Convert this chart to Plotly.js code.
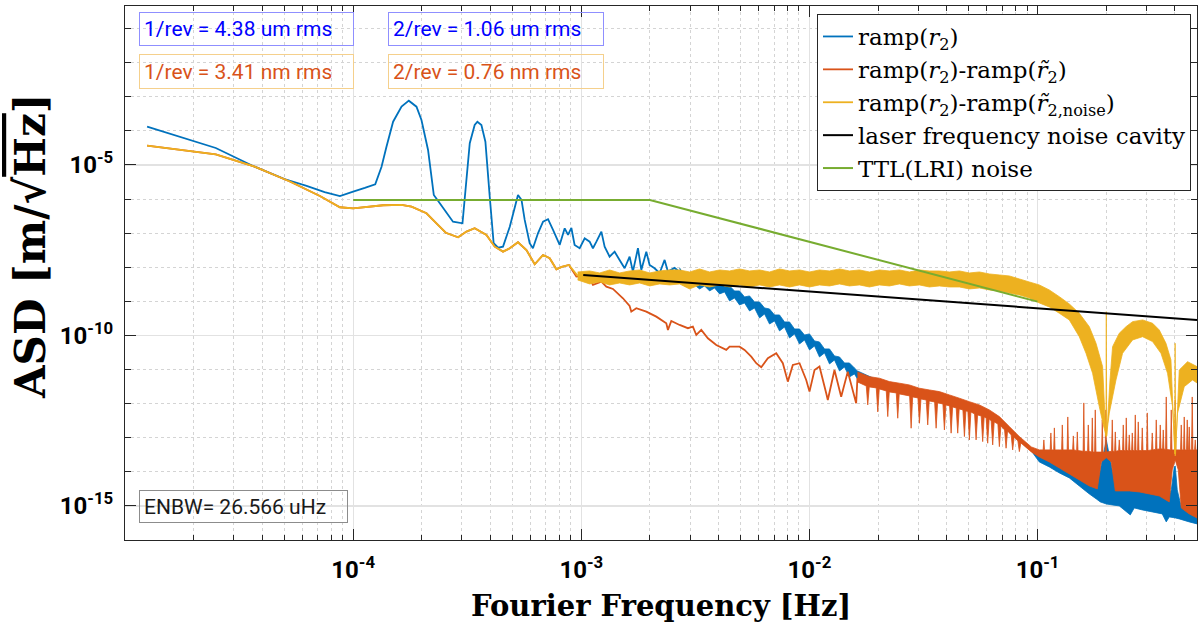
<!DOCTYPE html>
<html><head><meta charset="utf-8">
<script src="https://cdn.plot.ly/plotly-3.0.1.min.js"></script>
<style>html,body{margin:0;padding:0;background:#fff;}#chart{width:1198px;height:626px;}</style>
</head><body><div id="chart"></div>
<script>
// ---------- data ----------
const blueFreq = [1.25e-5,2.5e-5,3.7e-5,5.0e-5,6.25e-5,7.5e-5,8.75e-5,1.0e-4,1.125e-4,1.25e-4,1.332e-4,1.40e-4,1.497e-4,1.63e-4,1.754e-4,1.895e-4,1.993e-4,2.13e-4,2.257e-4,2.398e-4,2.74e-4,3.015e-4,3.245e-4,3.41e-4,3.505e-4,3.65e-4,3.80e-4,3.97e-4,4.13e-4,4.32e-4,4.54e-4,4.86e-4,5.28e-4,5.47e-4,5.65e-4,5.94e-4,6.14e-4,6.46e-4,6.80e-4,7.15e-4,7.52e-4,8.04e-4,8.46e-4,8.75e-4,9.05e-4,9.35e-4,9.84e-4,1.035e-3,1.088e-3,1.125e-3,1.165e-3,1.225e-3,1.266e-3,1.331e-3,1.40e-3,1.472e-3,1.549e-3,1.629e-3,1.684e-3,1.772e-3,1.833e-3,1.928e-3,1.993e-3,2.096e-3,2.205e-3,2.319e-3,2.398e-3,2.565e-3,2.698e-3];
const blueAsd = [1.33e-4,3.15e-5,8.9e-6,3.88e-6,2.42e-6,1.61e-6,1.23e-6,1.65e-6,2.12e-6,2.72e-6,8.9e-6,3.44e-5,1.86e-4,5.13e-4,7.69e-4,5.13e-4,2.09e-4,2.75e-5,1.32e-6,7.53e-7,2.17e-7,1.95e-7,4.33e-5,1.49e-4,1.86e-4,1.49e-4,4.82e-5,1.17e-6,5.06e-8,3.76e-8,4.02e-8,1.55e-7,1.32e-6,9.42e-7,2.44e-7,5.06e-8,3.61e-8,9.93e-8,2.17e-7,2.56e-7,1.24e-7,4.51e-8,1.39e-7,8.85e-8,1.42e-7,4.51e-8,3.61e-8,7.08e-8,5.63e-8,3.61e-8,5.63e-8,1.11e-7,4.02e-8,2.05e-8,2.86e-8,1.64e-8,9.35e-9,2.05e-8,7.43e-9,3.61e-8,8.34e-9,2.86e-8,1.17e-8,9.35e-9,6.67e-9,1.64e-8,7.43e-9,9.55e-9,7.28e-9];

const blueBandUpperFreq = [2.698e-3,2.838e-3,2.984e-3,3.139e-3,3.301e-3,3.472e-3,3.651e-3,3.840e-3,4.039e-3,4.248e-3,4.468e-3,4.698e-3,4.941e-3,5.197e-3,5.466e-3,5.748e-3,6.046e-3,6.359e-3,6.687e-3,7.033e-3,7.397e-3,7.780e-3,8.182e-3,8.606e-3,9.050e-3,9.519e-3,1.001e-2,1.053e-2,1.107e-2,1.165e-2,1.225e-2,1.288e-2,1.355e-2,1.425e-2,1.498e-2,1.576e-2,1.624e-2,2.028e-2,2.481e-2,3.035e-2,3.713e-2,4.545e-2,5.561e-2,6.803e-2,8.323e-2,9.394e-2,0.1018,0.1126,0.1246,0.1378,0.1524,0.1686,0.1810,0.1884,0.1962,0.2002,0.2042,0.2126,0.2237,0.2524,0.2792,0.3088,0.3416,0.3703,0.3856,0.3974,0.4014,0.4096,0.4265,0.4623,0.5];
const blueBandUpperAsd = [9.54e-9,5.56e-9,6.36e-9,4.54e-9,5.56e-9,4.24e-9,5.56e-9,3.70e-9,4.54e-9,2.64e-9,2.83e-9,2.02e-9,2.02e-9,1.35e-9,1.44e-9,9.6e-10,9.6e-10,6.40e-10,5.98e-10,3.99e-10,3.99e-10,2.49e-10,2.49e-10,1.55e-10,1.55e-10,1.03e-10,1.11e-10,6.90e-11,6.44e-11,4.02e-11,4.02e-11,2.51e-11,2.34e-11,1.56e-11,1.56e-11,1.11e-11,9.10e-12,4.63e-12,3.30e-12,2.36e-12,1.80e-12,1.20e-12,7.48e-13,3.56e-13,9.22e-14,4.69e-14,3.13e-14,2.23e-14,1.49e-14,9.93e-15,6.63e-15,4.42e-15,3.37e-15,1.14e-14,4.39e-14,8.62e-14,4.39e-14,1.14e-14,2.95e-15,3.15e-15,2.95e-15,2.57e-15,2.25e-15,1.50e-15,2.95e-15,1.39e-14,1.49e-14,2.95e-15,9.36e-16,6.67e-16,5.09e-16];
const blueBandLowerFreq = [2.698e-3,2.838e-3,2.984e-3,3.139e-3,3.301e-3,3.472e-3,3.651e-3,3.840e-3,4.039e-3,4.248e-3,4.468e-3,4.698e-3,4.941e-3,5.197e-3,5.466e-3,5.748e-3,6.046e-3,6.359e-3,6.687e-3,7.033e-3,7.397e-3,7.780e-3,8.182e-3,8.606e-3,9.050e-3,9.519e-3,1.001e-2,1.053e-2,1.107e-2,1.165e-2,1.225e-2,1.288e-2,1.355e-2,1.425e-2,1.498e-2,1.576e-2,1.624e-2,2.028e-2,2.481e-2,3.035e-2,3.713e-2,4.545e-2,5.561e-2,6.803e-2,8.323e-2,9.394e-2,0.1018,0.1126,0.1246,0.1378,0.1524,0.1686,0.1810,0.1884,0.2002,0.2126,0.2282,0.2550,0.2655,0.2878,0.3183,0.3521,0.3666,0.3779,0.4014,0.418,0.4623,0.5];
const blueBandLowerAsd = [5.56e-9,2.83e-9,2.64e-9,3.03e-9,2.31e-9,2.83e-9,2.02e-9,2.47e-9,1.65e-9,1.89e-9,1.03e-9,1.26e-9,7.84e-10,8.97e-10,5.23e-10,6.40e-10,3.26e-10,4.27e-10,2.17e-10,2.66e-10,1.36e-10,1.77e-10,8.45e-11,1.11e-10,5.63e-11,7.38e-11,3.76e-11,4.92e-11,2.34e-11,3.07e-11,1.46e-11,1.91e-11,9.10e-12,1.19e-11,6.06e-12,7.44e-12,5.30e-12,3.09e-12,2.20e-12,1.57e-12,1.20e-12,8.00e-13,5.34e-13,2.72e-13,8.06e-14,4.10e-14,1.95e-14,1.39e-14,9.29e-15,6.63e-15,3.86e-15,2.25e-15,1.60e-15,1.31e-15,1.14e-15,1.07e-15,1.0e-15,5.45e-16,8.72e-16,7.63e-16,6.67e-16,5.83e-16,3.40e-16,4.76e-16,4.45e-16,4.16e-16,3.40e-16,2.97e-16];

const orangeFreq = [1.25e-5,2.5e-5,3.7e-5,5.28e-5,7.15e-5,8.75e-5,1.0e-4,1.353e-4,1.63e-4,1.803e-4,2.097e-4,2.319e-4,2.547e-4,2.884e-4,3.139e-4,3.41e-4,3.84e-4,4.176e-4,4.54e-4,4.86e-4,5.28e-4,5.75e-4,6.25e-4,6.80e-4,7.27e-4,7.78e-4,8.21e-4,8.83e-4,9.52e-4,1.014e-3,1.088e-3,1.125e-3,1.225e-3,1.288e-3,1.377e-3,1.523e-3,1.629e-3,1.657e-3,1.743e-3,1.928e-3,2.133e-3,2.359e-3,2.398e-3,2.481e-3,2.698e-3,2.933e-3,3.085e-3,3.193e-3,3.358e-3,3.589e-3,3.906e-3,4.321e-3,4.468e-3,4.941e-3,5.197e-3,5.560e-3,5.848e-3,6.150e-3,6.574e-3,7.155e-3,7.647e-3,8.043e-3,8.459e-3,9.050e-3,9.684e-3,1.001e-2,1.053e-2,1.107e-2,1.185e-2,1.204e-2,1.288e-2,1.378e-2,1.473e-2,1.603e-2,1.624e-2];
const orangeAsd = [3.68e-5,2.06e-5,8.9e-6,3.28e-6,1.23e-6,5.75e-7,5.37e-7,6.59e-7,6.72e-7,5.98e-7,3.83e-7,1.95e-7,1.03e-7,7.59e-8,1.11e-7,1.39e-7,8.86e-8,4.02e-8,2.87e-8,3.61e-8,5.41e-8,3.21e-8,1.22e-8,2.29e-8,1.84e-8,8.72e-9,1.02e-8,1.17e-8,5.30e-9,5.56e-9,4.76e-9,3.03e-9,3.78e-9,2.70e-9,2.31e-9,1.23e-9,7.33e-10,4.98e-10,6.28e-10,4.98e-10,3.56e-10,2.28e-10,1.45e-10,2.66e-10,2.03e-10,1.63e-10,1.81e-10,1.03e-10,1.45e-10,8.28e-11,5.26e-11,3.76e-11,4.69e-11,4.69e-11,3.76e-11,2.39e-11,1.53e-11,1.17e-11,2.14e-11,3.0e-11,1.53e-11,4.42e-12,1.36e-11,1.53e-11,4.95e-12,2.25e-12,9.72e-12,1.22e-11,2.02e-12,1.28e-12,9.72e-12,1.60e-12,8.68e-12,1.03e-12,5.67e-12];

const orangeBandUpperFreq = [1.624e-2,1.833e-2,2.028e-2,2.243e-2,2.481e-2,2.744e-2,3.035e-2,3.357e-2,3.713e-2,4.108e-2,4.545e-2,5.028e-2,5.561e-2,6.151e-2,6.803e-2,7.524e-2,8.323e-2,9.394e-2,
 0.1018,0.1058,0.1066,0.1073,0.1136,0.1144,0.1152,0.1177,0.1185,0.1193,0.1246,0.1275,0.1284,0.1293,0.1348,0.1357,0.1367,0.1425,0.1435,0.1445,0.1484,0.1494,0.1504,0.1584,0.1595,0.1606,0.1657,0.1669,0.1681,0.1726,0.1738,0.1750,0.1779,0.1791,0.1803,0.1865,0.1909,0.1922,0.1935,0.1978,0.1992,0.2006,
 0.2111,0.2126,0.2141,0.2177,0.2192,0.2207,0.2266,0.2282,0.2298,0.2359,0.2376,0.2393,0.2432,0.2449,0.2466,0.2506,0.2524,0.2542,0.2584,0.2602,0.2620,0.2663,0.2682,0.2701,0.2745,0.2764,0.2783,0.2858,0.2878,0.2898,
 0.3006,0.3027,0.3048,0.3161,0.3183,0.3205,0.3291,0.3314,0.3337,0.3427,0.3451,0.3475,0.3532,0.3557,0.3582,0.3640,0.3666,0.3692,0.3829,0.3856,0.3883,0.3986,0.4014,0.4042,0.418,0.4235,0.4265,0.4295,0.4365,0.4396,0.4427,0.4499,0.4531,0.4563,0.4591,0.4623,0.4655,0.4732,0.4765,0.4798,0.4878,0.4912,0.4946,0.5];
const orangeBandUpperAsd = [8.51e-12,6.19e-12,5.56e-12,4.42e-12,3.97e-12,3.53e-12,2.83e-12,2.52e-12,2.25e-12,1.80e-12,1.44e-12,1.14e-12,9.16e-13,6.54e-13,4.16e-13,2.12e-13,1.08e-13,5.37e-14,
 4.4e-14,4.4e-14,8.62e-14,4.4e-14,4.4e-14,1.38e-13,4.4e-14,4.4e-14,1.94e-13,4.4e-14,4.4e-14,4.4e-14,2.37e-13,4.4e-14,4.4e-14,4.07e-13,4.4e-14,4.4e-14,1.13e-13,4.4e-14,4.2e-14,1.48e-13,4.2e-14,4.0e-14,1.05e-12,4.0e-14,4.0e-14,2.37e-13,4.0e-14,3.8e-14,3.81e-13,3.8e-14,3.8e-14,6.54e-13,3.8e-14,3.8e-14,3.8e-14,3.33e-13,3.8e-14,3.8e-14,6.54e-13,3.8e-14,
 4.0e-14,3.33e-13,4.0e-14,4.0e-14,1.48e-13,4.0e-14,4.2e-14,8.62e-14,4.2e-14,4.2e-14,2.37e-13,4.2e-14,4.2e-14,3.81e-13,4.2e-14,4.2e-14,1.21e-13,4.2e-14,4.2e-14,1.38e-13,4.2e-14,4.2e-14,4.66e-13,4.2e-14,4.2e-14,2.91e-13,4.2e-14,4.2e-14,1.94e-13,4.2e-14,
 4.2e-14,5.34e-13,4.2e-14,4.4e-14,1.38e-13,4.4e-14,4.6e-14,3.33e-13,4.6e-14,4.7e-14,2.37e-13,4.7e-14,4.7e-14,1.69e-13,4.7e-14,4.5e-14,1.57e-12,4.5e-14,4.4e-14,6.54e-13,4.4e-14,4.4e-14,1.28e-12,4.4e-14,4.4e-14,4.4e-14,2.37e-13,4.4e-14,4.4e-14,4.07e-13,4.4e-14,4.4e-14,3.33e-13,4.4e-14,4.4e-14,2.07e-13,4.4e-14,4.4e-14,1.57e-12,4.4e-14,4.4e-14,8.62e-14,4.4e-14,4.4e-14];
const orangeBandLowerFreq = [1.624e-2,1.775e-2,1.802e-2,1.830e-2,1.964e-2,1.994e-2,2.024e-2,2.172e-2,2.205e-2,2.239e-2,2.403e-2,2.439e-2,2.476e-2,2.750e-2,2.792e-2,2.835e-2,2.990e-2,3.036e-2,3.082e-2,3.251e-2,3.301e-2,3.351e-2,3.539e-2,3.593e-2,3.647e-2,3.848e-2,3.906e-2,3.966e-2,4.117e-2,4.180e-2,4.244e-2,4.400e-2,4.468e-2,4.535e-2,4.708e-2,4.780e-2,4.853e-2,4.951e-2,5.026e-2,5.103e-2,5.297e-2,5.378e-2,5.460e-2,5.662e-2,5.748e-2,5.836e-2,5.955e-2,6.046e-2,6.138e-2,6.263e-2,6.359e-2,6.456e-2,6.701e-2,6.803e-2,6.907e-2,7.170e-2,7.279e-2,7.390e-2,7.663e-2,7.780e-2,7.899e-2,8.199e-2,8.323e-2,8.450e-2,9.394e-2,0.1018,0.1126,0.1246,0.1378,0.1524,0.1686,0.1828,0.1903,0.2,0.2105,0.2192,0.2524,0.2792,0.3088,0.3416,0.3779,0.3895,0.4014,0.4138,0.4265,0.4623,0.5];
const orangeBandLowerAsd = [4.33e-12,3.30e-12,9.16e-13,3.09e-12,2.89e-12,5.71e-13,2.70e-12,2.36e-12,4.16e-13,2.20e-12,2.06e-12,3.73e-13,1.93e-12,1.68e-12,1.90e-13,1.57e-12,1.47e-12,2.66e-13,1.37e-12,1.28e-12,2.37e-13,1.20e-12,1.12e-12,1.90e-13,1.05e-12,9.80e-13,1.69e-13,9.16e-13,8.56e-13,1.36e-13,8.00e-13,7.48e-13,1.36e-13,6.99e-13,6.54e-13,1.08e-13,6.11e-13,5.91e-13,8.62e-14,5.71e-13,4.99e-13,8.62e-14,4.66e-13,4.36e-13,7.69e-14,4.07e-13,3.81e-13,6.90e-14,3.56e-13,3.11e-13,6.15e-14,2.91e-13,2.54e-13,5.48e-14,2.22e-13,1.69e-13,4.92e-14,1.58e-13,1.21e-13,4.39e-14,1.05e-13,8.06e-14,3.91e-14,7.04e-14,3.83e-14,2.73e-14,1.95e-14,1.30e-14,8.68e-15,5.79e-15,3.86e-15,3.15e-15,1.95e-14,2.6e-14,1.95e-14,2.75e-15,2.75e-15,2.57e-15,2.25e-15,1.96e-15,1.31e-15,1.14e-14,2.23e-14,1.14e-14,8.72e-16,5.83e-16,4.45e-16];

const yellowFreq = [1.25e-5,2.5e-5,3.7e-5,5.28e-5,7.15e-5,8.75e-5,1.0e-4,1.353e-4,1.63e-4,1.803e-4,2.097e-4,2.319e-4,2.547e-4,2.884e-4,3.139e-4,3.41e-4,3.84e-4,4.176e-4,4.54e-4,4.86e-4,5.28e-4,5.75e-4,6.25e-4,6.80e-4,7.27e-4,7.78e-4,8.21e-4,8.83e-4,9.64e-4];
const yellowAsd = [3.68e-5,2.06e-5,8.9e-6,3.28e-6,1.23e-6,5.75e-7,5.37e-7,6.59e-7,6.72e-7,5.98e-7,3.83e-7,1.95e-7,1.03e-7,7.59e-8,1.11e-7,1.39e-7,8.86e-8,4.02e-8,2.87e-8,3.61e-8,5.41e-8,3.21e-8,1.22e-8,2.29e-8,1.84e-8,8.72e-9,1.02e-8,1.17e-8,5.6e-9];

const yellowBandUpperFreq = [9.64e-4,1.088e-3,1.204e-3,1.332e-3,1.473e-3,1.629e-3,1.802e-3,1.994e-3,2.205e-3,2.439e-3,2.698e-3,2.984e-3,3.301e-3,3.651e-3,4.039e-3,4.468e-3,4.941e-3,5.466e-3,6.046e-3,6.687e-3,7.397e-3,8.182e-3,9.050e-3,1.001e-2,1.107e-2,1.225e-2,1.355e-2,1.498e-2,1.657e-2,1.833e-2,2.028e-2,2.243e-2,2.481e-2,2.744e-2,3.035e-2,3.357e-2,3.713e-2,4.108e-2,4.545e-2,5.028e-2,5.561e-2,6.151e-2,6.803e-2,7.524e-2,8.323e-2,9.207e-2,0.1018,0.1126,0.1246,0.1378,0.1524,0.1686,0.1804,0.1928,0.1994,0.2002,0.2010,0.2078,0.2133,0.2282,0.2442,0.2610,0.2887,0.3193,0.3416,0.3655,0.3844,0.3994,0.4010,0.4026,0.418,0.4545,0.5];
const yellowBandUpperAsd = [7.28e-9,7.79e-9,6.81e-9,8.33e-9,6.81e-9,7.79e-9,8.33e-9,6.81e-9,7.79e-9,8.33e-9,8.33e-9,7.28e-9,8.92e-9,7.28e-9,8.33e-9,7.79e-9,8.92e-9,7.79e-9,8.33e-9,7.28e-9,8.92e-9,7.79e-9,8.33e-9,7.28e-9,8.33e-9,7.79e-9,8.92e-9,7.79e-9,8.33e-9,7.28e-9,8.33e-9,7.79e-9,8.33e-9,7.28e-9,8.33e-9,7.79e-9,7.79e-9,7.28e-9,7.79e-9,6.81e-9,7.28e-9,6.36e-9,5.95e-9,5.56e-9,4.54e-9,3.70e-9,3.03e-9,2.16e-9,1.37e-9,8.40e-10,4.48e-10,1.81e-10,5.9e-11,1.22e-11,1.13e-13,4.98e-10,1.13e-13,4.95e-12,4.69e-11,1.16e-10,1.81e-10,2.54e-10,2.85e-10,2.28e-10,1.45e-10,5.9e-11,1.91e-11,3.35e-14,5.9e-11,3.35e-14,9.72e-12,1.70e-11,1.22e-11];
const yellowBandLowerFreq = [9.64e-4,1.088e-3,1.204e-3,1.332e-3,1.473e-3,1.629e-3,1.802e-3,1.994e-3,2.205e-3,2.439e-3,2.698e-3,2.984e-3,3.301e-3,3.651e-3,4.039e-3,4.468e-3,4.941e-3,5.466e-3,6.046e-3,6.687e-3,7.397e-3,8.182e-3,9.050e-3,1.001e-2,1.107e-2,1.225e-2,1.355e-2,1.498e-2,1.657e-2,1.833e-2,2.028e-2,2.243e-2,2.481e-2,2.744e-2,3.035e-2,3.357e-2,3.713e-2,4.108e-2,4.545e-2,5.028e-2,5.561e-2,6.151e-2,6.803e-2,7.524e-2,8.323e-2,9.207e-2,0.1018,0.1126,0.1246,0.1378,0.1524,0.1631,0.1743,0.1865,0.1942,0.2002,0.2063,0.2207,0.2359,0.2610,0.2887,0.3193,0.3475,0.3714,0.3906,0.4014,0.4108,0.4396,0.4780,0.5];
const yellowBandLowerAsd = [4.24e-9,3.24e-9,3.70e-9,3.03e-9,3.46e-9,3.03e-9,3.46e-9,2.83e-9,3.24e-9,3.03e-9,3.24e-9,2.31e-9,3.03e-9,2.64e-9,3.03e-9,2.64e-9,3.03e-9,2.64e-9,3.03e-9,2.64e-9,3.03e-9,2.64e-9,3.03e-9,2.64e-9,3.03e-9,2.83e-9,3.24e-9,2.83e-9,3.03e-9,2.64e-9,3.03e-9,2.83e-9,3.24e-9,2.83e-9,3.03e-9,2.64e-9,2.83e-9,2.64e-9,2.64e-9,2.31e-9,2.47e-9,2.16e-9,2.02e-9,1.76e-9,1.54e-9,1.26e-9,8.97e-10,6.85e-10,4.48e-10,2.85e-10,9.2e-11,3.0e-11,7.8e-12,8.17e-13,2.37e-13,1.06e-13,5.25e-13,4.95e-12,3.0e-11,7.38e-11,9.2e-11,6.59e-11,3.0e-11,7.8e-12,8.17e-13,2.93e-14,5.25e-13,3.15e-12,4.95e-12,4.05e-12];

const laserFreq = [1.02e-3, 0.5];
const laserAsd = [5.95e-9, 2.85e-10];
const ttlFreq = [1.0e-4, 2.0e-3, 0.1];
const ttlAsd = [9.4e-7, 9.4e-7, 9.8e-10];

const seriesNames = ['ramp(<i>r</i><sub>2</sub>)',
  'ramp(<i>r</i><sub>2</sub>)-ramp(<i>r̃</i><sub>2</sub>)',
  'ramp(<i>r</i><sub>2</sub>)-ramp(<i>r̃</i><sub>2,noise</sub>)',
  'laser frequency noise cavity',
  'TTL(LRI) noise'];
const colors = ['#0072BD','#D95319','#EDB120','#000000','#77AC30'];

const xMajorTicks = [1e-4,1e-3,1e-2,1e-1];
const xMajorLabels = ['10<sup>-4</sup>','10<sup>-3</sup>','10<sup>-2</sup>','10<sup>-1</sup>'];
const xMinorTicks = [2e-5,3e-5,4e-5,5e-5,6e-5,7e-5,8e-5,9e-5,2e-4,3e-4,4e-4,5e-4,6e-4,7e-4,8e-4,9e-4,2e-3,3e-3,4e-3,5e-3,6e-3,7e-3,8e-3,9e-3,2e-2,3e-2,4e-2,5e-2,6e-2,7e-2,8e-2,9e-2,2e-1,3e-1,4e-1];
const yMajorTicks = [1e-15,1e-10,1e-5];
const yMajorLabels = ['10<sup>-15</sup>','10<sup>-10</sup>','10<sup>-5</sup>'];
const yMinorTicks = [1e-14,1e-13,1e-12,1e-11,1e-9,1e-8,1e-7,1e-6,1e-4,1e-3,1e-2,1e-1];

// ---------- build traces ----------
function band(uf, ua, lf, la, color) {
  return {x: uf.concat(lf.slice().reverse()), y: ua.concat(la.slice().reverse()),
    type:'scatter', mode:'lines', fill:'toself', fillcolor: color,
    line:{color: color, width:0.8, simplify:false}, showlegend:false, hoverinfo:'skip'};
}
function line(x, y, i, w) {
  return {x:x, y:y, type:'scatter', mode:'lines', name: seriesNames[i],
    line:{color: colors[i], width: w, simplify:false}, hoverinfo:'skip'};
}
const traces = [
  line(blueFreq, blueAsd, 0, 1.8),
  band(blueBandUpperFreq, blueBandUpperAsd, blueBandLowerFreq, blueBandLowerAsd, colors[0]),
  line(orangeFreq, orangeAsd, 1, 1.8),
  band(orangeBandUpperFreq, orangeBandUpperAsd, orangeBandLowerFreq, orangeBandLowerAsd, colors[1]),
  line(yellowFreq, yellowAsd, 2, 1.8),
  band(yellowBandUpperFreq, yellowBandUpperAsd, yellowBandLowerFreq, yellowBandLowerAsd, colors[2]),
  line(laserFreq, laserAsd, 3, 2),
  line(ttlFreq, ttlAsd, 4, 2)
];

const L = 125, R = 1, T = 6, B = 86, PW = 1198 - L - R, PH = 626 - T - B;
function px(x){ return (x - L) / PW; }
function py(y){ return (T + PH - y) / PH; }

const tickFont = {family:'Roboto, Arial, sans-serif', size:24, color:'#000', weight:'bold'};
const boxFont = {family:'Roboto, Arial, sans-serif', size:21};

function textBox(text, x0, x1, y0, y1, color, border) {
  return {text: text, xref:'paper', yref:'paper', x: px((x0+x1)/2), y: py((y0+y1)/2),
    xanchor:'center', yanchor:'middle', showarrow:false, align:'left',
    width: x1 - x0 - 10, height: y1 - y0 - 8, borderpad:4, borderwidth:1,
    bordercolor: border, bgcolor:'rgba(255,255,255,0)', font: Object.assign({color: color}, boxFont)};
}

const layout = {
  width:1198, height:626,
  margin:{l:L, r:R, t:T, b:B, pad:0},
  paper_bgcolor:'#fff', plot_bgcolor:'#fff',
  showlegend:true,
  xaxis:{type:'log', range:[-5, Math.log10(0.5)], autorange:false,
    tickmode:'array', tickvals:xMajorTicks, ticktext:xMajorLabels,
    ticks:'inside', ticklen:11, tickwidth:1, tickcolor:'#262626',
    showline:true, linecolor:'#262626', linewidth:1, mirror:'ticks',
    showgrid:true, gridcolor:'#e2e2e2', gridwidth:1.2,
    tickfont: tickFont, ticklabelstandoff: 8, zeroline:false,
    minor:{tickmode:'array', tickvals:xMinorTicks, ticks:'inside', ticklen:5, tickcolor:'#262626',
      showgrid:true, gridcolor:'#d4d4d4', griddash:'dot', gridwidth:1}},
  yaxis:{type:'log', range:[-16, -0.337], autorange:false,
    tickmode:'array', tickvals:yMajorTicks, ticktext:yMajorLabels,
    ticks:'inside', ticklen:11, tickwidth:1, tickcolor:'#262626',
    showline:true, linecolor:'#262626', linewidth:1, mirror:'ticks',
    showgrid:true, gridcolor:'#e2e2e2', gridwidth:1.2,
    tickfont: tickFont, ticklabelstandoff: 6, zeroline:false,
    minor:{tickmode:'array', tickvals:yMinorTicks, ticks:'inside', ticklen:6, tickcolor:'#262626',
      showgrid:true, gridcolor:'#d4d4d4', griddash:'dot', gridwidth:1}},
  legend:{x: px(1191), xanchor:'right', y: py(14), yanchor:'top',
    bgcolor:'#fff', bordercolor:'#262626', borderwidth:1,
    font:{family:'DejaVu Serif, serif', size:23, color:'#000'},
    itemwidth:30, tracegroupgap:0},
  annotations:[
    {text:'Fourier Frequency [Hz]', xref:'paper', yref:'paper', x:0.5, y: py(606),
      xanchor:'center', yanchor:'middle', showarrow:false,
      font:{family:'DejaVu Serif, serif', size:29, color:'#000', weight:'bold'}},
    {text:'ASD [m/√<span style="text-decoration:overline">Hz</span>]', xref:'paper', yref:'paper',
      x: px(30), y: py(246), xanchor:'center', yanchor:'middle', textangle:-90, showarrow:false,
      font:{family:'DejaVu Serif, serif', size:42, color:'#000', weight:'bold'}},
    textBox('1/rev = 4.38 um rms', 139, 354, 13, 45, '#0000ff', '#8f8fff'),
    textBox('1/rev = 3.41 nm rms', 139, 354, 55, 88, '#D95319', '#f5d08c'),
    textBox('2/rev = 1.06 um rms', 388, 604, 13, 45, '#0000ff', '#8f8fff'),
    textBox('2/rev = 0.76 nm rms', 388, 604, 55, 88, '#D95319', '#f5d08c'),
    textBox('ENBW= 26.566 uHz', 139, 348, 491, 522, '#1a1a1a', '#8c8c8c')
  ]
};

Plotly.newPlot('chart', traces, layout, {displayModeBar:false, staticPlot:true});
</script></body></html>
